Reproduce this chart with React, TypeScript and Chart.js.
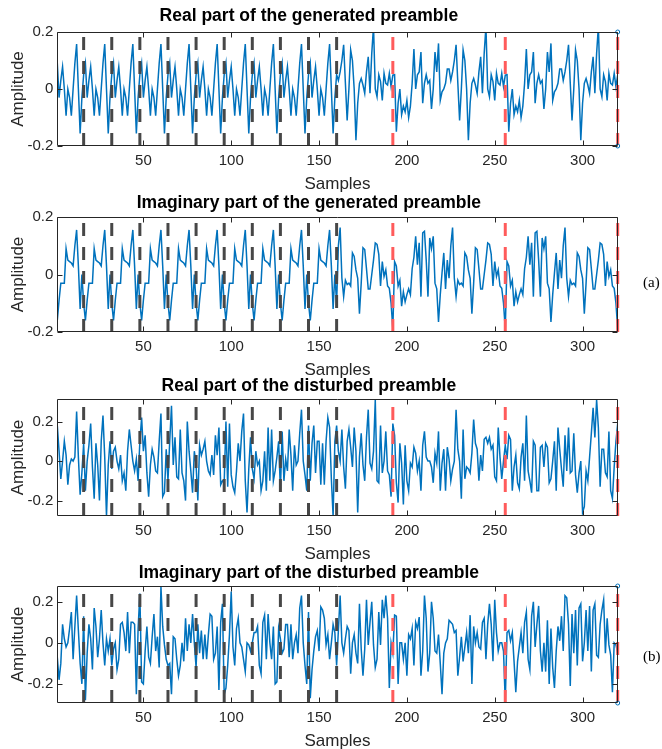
import React, { useEffect, useRef } from "react";
import { Chart, registerables } from "chart.js";
Chart.register(...registerables);

// ---------- data ----------
const GEN_REAL = [
  0.09,-0.03,0.03,0.078,0,-0.094,0,-0.03,-0.094,0,0.09,0.158,0,-0.156,-0.03,0.05,
  0.09,-0.03,0.03,0.078,0,-0.094,0,-0.03,-0.094,0,0.09,0.158,0,-0.156,-0.03,0.05,
  0.09,-0.03,0.03,0.078,0,-0.094,0,-0.03,-0.094,0,0.09,0.158,0,-0.156,-0.03,0.05,
  0.09,-0.03,0.03,0.078,0,-0.094,0,-0.03,-0.094,0,0.09,0.158,0,-0.156,-0.03,0.05,
  0.09,-0.03,0.03,0.078,0,-0.094,0,-0.03,-0.094,0,0.09,0.158,0,-0.156,-0.03,0.05,
  0.09,-0.03,0.03,0.078,0,-0.094,0,-0.03,-0.094,0,0.09,0.158,0,-0.156,-0.03,0.05,
  0.09,-0.03,0.03,0.078,0,-0.094,0,-0.03,-0.094,0,0.09,0.158,0,-0.156,-0.03,0.05,
  0.09,-0.03,0.03,0.078,0,-0.094,0,-0.03,-0.094,0,0.09,0.158,0,-0.156,-0.03,0.05,
  0.09,-0.03,0.03,0.078,0,-0.094,0,-0.03,-0.094,0,0.09,0.158,0,-0.156,-0.03,0.05,
  0.09,-0.03,0.03,0.078,0,-0.094,0,-0.03,-0.094,0,0.09,0.158,0,-0.156,-0.03,0.05,
  0.03,0.06,0.1,0.155,0.02,-0.11,0,0.137,0.1,0,-0.18,-0.05,0.02,0.037,0.014,-0.015,
  0.06,0.113,-0.015,0.125,0.22,0,-0.027,0.05,0.026,-0.04,0.055,0.02,0.014,0.055,0.008,0.049,
  0.05,-0.15,-0.05,0,-0.09,-0.06,-0.08,-0.04,-0.1,-0.06,0.02,0.14,0,0.05,0.06,0.13,
  -0.05,0.02,0.05,0.02,0.03,-0.07,0,0.13,0.06,0.16,-0.04,-0.01,0,0.02,0.07,0.07,
  0.03,0.06,0.1,0.155,0.02,-0.11,0,0.137,0.1,0,-0.18,-0.05,0.02,0.037,0.014,-0.015,
  0.06,0.113,-0.015,0.125,0.22,0,-0.027,0.05,0.026,-0.04,0.055,0.02,0.014,0.055,0.008,0.049,
  0.05,-0.15,-0.05,0,-0.09,-0.06,-0.08,-0.04,-0.1,-0.06,0.02,0.14,0,0.05,0.06,0.13,
  -0.05,0.02,0.05,0.02,0.03,-0.07,0,0.13,0.06,0.16,-0.04,-0.01,0,0.02,0.07,0.07,
  0.03,0.06,0.1,0.155,0.02,-0.11,0,0.137,0.1,0,-0.18,-0.05,0.02,0.037,0.014,-0.015,
  0.06,0.113,-0.015,0.125,0.22,0,-0.027,0.05,0.026,-0.04,0.055,0.02,0.014,0.055,0.008,0.049,
];

const GEN_IMAG = [
  -0.16,-0.09,-0.03,-0.03,-0.03,0.09,0.05,0.045,0.04,0.03,0.1,0.155,0.03,-0.12,0,-0.1,
  -0.16,-0.09,-0.03,-0.03,-0.03,0.09,0.05,0.045,0.04,0.03,0.1,0.155,0.03,-0.12,0,-0.1,
  -0.16,-0.09,-0.03,-0.03,-0.03,0.09,0.05,0.045,0.04,0.03,0.1,0.155,0.03,-0.12,0,-0.1,
  -0.16,-0.09,-0.03,-0.03,-0.03,0.09,0.05,0.045,0.04,0.03,0.1,0.155,0.03,-0.12,0,-0.1,
  -0.16,-0.09,-0.03,-0.03,-0.03,0.09,0.05,0.045,0.04,0.03,0.1,0.155,0.03,-0.12,0,-0.1,
  -0.16,-0.09,-0.03,-0.03,-0.03,0.09,0.05,0.045,0.04,0.03,0.1,0.155,0.03,-0.12,0,-0.1,
  -0.16,-0.09,-0.03,-0.03,-0.03,0.09,0.05,0.045,0.04,0.03,0.1,0.155,0.03,-0.12,0,-0.1,
  -0.16,-0.09,-0.03,-0.03,-0.03,0.09,0.05,0.045,0.04,0.03,0.1,0.155,0.03,-0.12,0,-0.1,
  -0.16,-0.09,-0.03,-0.03,-0.03,0.09,0.05,0.045,0.04,0.03,0.1,0.155,0.03,-0.12,0,-0.1,
  -0.16,-0.09,-0.03,-0.03,-0.03,0.09,0.05,0.045,0.04,0.03,0.1,0.155,0.03,-0.12,0,-0.1,
  0.1,0.163,-0.013,-0.077,-0.02,-0.035,-0.03,-0.04,0.075,0.063,0.016,-0.013,-0.136,-0.03,0.093,0.087,
  0.02,-0.05,-0.05,0,0.05,0.11,0.105,0.07,-0.04,0.045,-0.007,0.016,-0.04,-0.048,-0.1,-0.19,
  0.045,0.03,-0.04,-0.02,-0.11,-0.06,-0.095,-0.07,-0.05,-0.07,0.02,0.06,0.133,0.034,0.11,-0.077,
  0.145,0.15,0.05,-0.077,0.127,0.09,0.133,-0.03,-0.05,-0.165,-0.07,0.005,0.075,-0.05,0.05,-0.013,
  0.1,0.163,-0.013,-0.077,-0.02,-0.035,-0.03,-0.04,0.075,0.063,0.016,-0.013,-0.136,-0.03,0.093,0.087,
  0.02,-0.05,-0.05,0,0.05,0.11,0.105,0.07,-0.04,0.045,-0.007,0.016,-0.04,-0.048,-0.1,-0.19,
  0.045,0.03,-0.04,-0.02,-0.11,-0.06,-0.095,-0.07,-0.05,-0.07,0.02,0.06,0.133,0.034,0.11,-0.077,
  0.145,0.15,0.05,-0.077,0.127,0.09,0.133,-0.03,-0.05,-0.165,-0.07,0.005,0.075,-0.05,0.05,-0.013,
  0.1,0.163,-0.013,-0.077,-0.02,-0.035,-0.03,-0.04,0.075,0.063,0.016,-0.013,-0.136,-0.03,0.093,0.087,
  0.02,-0.05,-0.05,0,0.05,0.11,0.105,0.07,-0.04,0.045,-0.007,0.016,-0.04,-0.048,-0.1,-0.19,
];

const DIST_REAL = [
  0.18,0.05,-0.09,0,0.1,0.03,-0.12,-0.02,0.01,0,0.02,0.25,0.02,-0.17,-0.06,0.09,
  -0.15,0,0.08,0.19,-0.03,-0.19,0.09,-0.02,-0.2,0.1,0.23,0.02,-0.28,-0.02,0.1,-0.04,
  0.05,0.07,0,-0.04,0.03,-0.1,-0.06,-0.15,0.05,0.16,0.08,0,-0.05,0.01,-0.1,0.1,
  0.22,0.05,0.13,-0.06,-0.18,-0.02,0.06,0.02,-0.05,-0.06,0.1,0.24,-0.18,-0.16,0.06,-0.1,
  0.1,0.28,-0.02,0.12,-0.08,-0.09,0.16,-0.06,-0.1,-0.2,0.2,0.05,-0.05,-0.16,0.05,-0.02,
  -0.2,0.08,0.03,0.06,0.1,0,-0.05,-0.07,0.03,-0.07,0.13,0.03,0.17,-0.12,-0.1,-0.11,
  0.2,-0.13,0.19,-0.07,-0.13,-0.16,-0.05,0.09,0,0.15,0.24,-0.1,-0.26,-0.04,0.12,-0.04,
  -0.09,0.05,-0.02,0,-0.15,-0.1,0.05,-0.15,0.17,-0.1,0.16,-0.1,-0.05,0.02,0.1,-0.15,
  0.15,-0.1,0.01,-0.05,0.16,0.03,-0.15,0.08,-0.02,0,0.14,0.26,0,-0.07,-0.15,0.18,
  -0.1,0.09,0.18,-0.06,0.1,0.1,-0.12,0.09,-0.12,0.1,0.22,0.17,-0.09,-0.28,0.1,0.18,
  0.05,0,0.16,-0.03,-0.14,0.1,0.16,0.07,-0.03,0.17,0.05,-0.26,0.02,0.14,-0.02,-0.1,
  0.12,0.26,-0.01,-0.04,0.05,0.31,-0.1,-0.11,0.18,-0.06,0,0.15,-0.05,-0.07,-0.18,0.19,
  0.13,-0.11,-0.21,0.09,-0.01,-0.22,0.08,-0.1,-0.15,-0.01,-0.03,0.07,0.04,-0.05,0,-0.15,
  0.08,0.15,0.02,0,0,-0.03,-0.11,0.04,-0.01,0.15,-0.15,-0.01,0.06,-0.15,0.07,0.01,
  -0.1,-0.04,0,0.26,0.06,0,-0.19,0.16,-0.09,-0.03,-0.04,-0.06,0.04,0.21,0.09,0.06,
  -0.1,0.03,-0.05,0.11,0.12,0.09,0.12,0.06,0.08,-0.08,-0.1,0.17,0.02,-0.09,0,0.08,
  0.01,0.13,0.11,-0.15,-0.03,0.03,-0.11,-0.14,0.02,0.09,-0.1,0.23,-0.05,-0.1,-0.16,0.1,
  0.08,-0.15,-0.15,0.07,0.08,-0.03,0.09,0.07,-0.11,-0.09,0,0.1,-0.15,0.17,0.06,-0.04,
  -0.13,0.13,-0.05,0.17,-0.06,-0.05,0.14,-0.07,-0.16,-0.06,0,-0.26,-0.23,-0.05,-0.1,0.02,
  0.14,0.27,0.12,0.31,0.17,-0.13,0.06,0.06,-0.06,-0.08,0.15,-0.15,-0.19,-0.03,0.1,0.19,
];

const DIST_IMAG = [
  -0.07,-0.18,-0.1,0.09,0.02,-0.02,0,0.07,0.15,-0.08,0.08,0.23,0.06,-0.1,-0.2,0.13,
  -0.28,-0.05,0.09,0.02,-0.13,0.17,0.08,-0.07,0.02,0.16,0,-0.11,0.02,-0.04,0.02,-0.11,
  -0.03,0,-0.13,-0.08,0.09,0.1,0.05,-0.04,0.15,-0.05,0.1,0.1,0.09,-0.25,0.07,0.24,
  -0.19,-0.2,-0.04,0.08,-0.07,-0.1,0.03,0.14,-0.04,0.03,-0.12,0.275,0.08,-0.01,-0.08,-0.11,
  -0.1,-0.25,0.03,0.02,-0.08,-0.16,-0.11,0,-0.09,0.12,-0.04,0.09,0,0.14,0,-0.12,
  0.09,-0.05,0.06,-0.08,0.04,-0.08,0.04,0.14,0.13,-0.08,-0.05,0.08,-0.23,0.1,0.19,-0.25,
  -0.22,-0.11,0.04,0.25,-0.02,-0.11,0.07,0.12,0,-0.02,-0.08,-0.14,0,-0.01,-0.04,0,
  0.05,0.05,0.08,-0.11,-0.15,0.1,0.135,-0.08,0.14,0,-0.08,0.08,-0.2,-0.19,0.07,0.02,
  -0.05,-0.03,0.09,0.09,-0.07,0.09,-0.08,0,0.04,-0.05,0.17,0.23,0,-0.11,-0.2,0.15,
  -0.27,-0.13,-0.04,0.03,0.06,-0.04,0.175,0.16,0.12,-0.01,0.04,-0.08,0,0.09,0.05,-0.11,
  0.06,0.23,0,-0.05,0.02,0.08,0.06,-0.15,0,0.04,-0.05,-0.1,0.19,-0.03,-0.16,-0.03,
  0.21,-0.01,0.1,0.2,-0.01,-0.12,-0.08,0.15,-0.01,0.21,0.12,0.23,0.12,-0.22,0,-0.05,
  0.135,0.13,-0.2,0,0,-0.08,0,-0.16,0.04,0.02,0.07,-0.11,0.1,0.07,0.126,-0.16,
  -0.04,0.23,0.12,-0.14,-0.05,0.2,0.12,-0.04,-0.05,0.04,-0.1,-0.25,-0.05,0,0.02,0.11,
  0.1,0.09,0.05,0.06,-0.16,-0.07,0.03,-0.09,-0.02,0.05,-0.05,0.135,-0.2,0.08,0,0.05,
  -0.02,-0.03,0.1,0.12,-0.08,0.09,0.19,0.09,-0.09,0.21,0.05,-0.04,0,0,-0.04,-0.29,
  0.05,0.06,0.01,0.05,-0.09,-0.24,-0.09,-0.02,0.05,-0.05,0.1,0.15,-0.08,-0.13,0.13,0.2,
  -0.02,0.09,0.18,-0.04,-0.14,0,-0.14,0.11,-0.2,0.07,-0.12,-0.22,-0.04,0.08,0.01,0.13,
  -0.04,0.23,0.22,0.09,-0.21,0.14,-0.05,0.16,-0.11,0.17,0.19,-0.09,0,0.16,-0.04,0.18,
  -0.14,0.16,0.19,-0.06,-0.07,0.09,0.16,0.21,-0.05,0.12,-0.01,-0.06,-0.24,0,-0.01,-0.05,
];

const PANEL_TITLES = [
  "Real part of the generated preamble",
  "Imaginary part of the generated preamble",
  "Real part of the disturbed preamble",
  "Imaginary part of the disturbed preamble",
];
const PANEL_SERIES = [GEN_REAL, GEN_IMAG, DIST_REAL, DIST_IMAG];
const Y_LIMITS = [
  [-0.2, 0.2],
  [-0.2, 0.2],
  [-0.278, 0.314],
  [-0.293, 0.277],
];
const X_RANGE = [1, 320];
const X_TICKS = [50, 100, 150, 200, 250, 300];
const Y_TICKS = [-0.2, 0, 0.2];
const STF_BOUNDARIES = [16, 32, 48, 64, 80, 96, 112, 128, 144, 160];
const LTF_BOUNDARIES = [192, 256, 320];
const CORNER_MARKER_PANELS = [0, 3];
const SIDE_LABELS = [
  { text: "(a)", top: 273 },
  { text: "(b)", top: 647 },
];

// ---------- layout ----------
const PANEL_BOXES = [
  { top: 0, plotH: 114, titleGap: 15.5 },
  { top: 185, plotH: 115, titleGap: 13.5 },
  { top: 367, plotH: 117, titleGap: 13 },
  { top: 554, plotH: 117, titleGap: 13 },
];
const TITLE_SPACE = 32;
const XAXIS_SPACE = 52;
const PLOT_LEFT = 57.3;
const PLOT_RIGHT = 617.7;
const W = 662;

const SANS = '"Liberation Sans", Arial, Helvetica, sans-serif';
const AXIS_COLOR = "#262626";
const TITLE_SIZE = 17.5;
const LABEL_SIZE = 17;
const TICK_SIZE = 15;

const framePlugin = {
  id: "matlabFrame",
  afterDatasetsDraw(chart: any) {
    const { ctx, chartArea: a, scales } = chart;
    const L = Math.round(a.left) + 0.5;
    const R = Math.round(a.right) - 0.5;
    const T = Math.round(a.top) + 0.5;
    const B = Math.round(a.bottom) - 0.5;
    ctx.save();
    ctx.strokeStyle = AXIS_COLOR;
    ctx.lineWidth = 1;
    ctx.beginPath();
    ctx.rect(L, T, R - L, B - T);
    const tl = 5;
    for (const v of X_TICKS) {
      const px = Math.round(scales.x.getPixelForValue(v)) + 0.5;
      ctx.moveTo(px, B);
      ctx.lineTo(px, B - tl);
      ctx.moveTo(px, T);
      ctx.lineTo(px, T + tl);
    }
    for (const v of Y_TICKS) {
      const py = Math.round(scales.y.getPixelForValue(v)) + 0.5;
      ctx.moveTo(L, py);
      ctx.lineTo(L + tl, py);
      ctx.moveTo(R, py);
      ctx.lineTo(R - tl, py);
    }
    ctx.stroke();
    ctx.restore();
  },
};

function Panel({ index }: { index: number }) {
  const ref = useRef<HTMLCanvasElement | null>(null);
  const box = PANEL_BOXES[index];
  const H = TITLE_SPACE + box.plotH + XAXIS_SPACE;

  useEffect(() => {
    if (!ref.current) return;
    const values = PANEL_SERIES[index];
    const [ymin, ymax] = Y_LIMITS[index];
    const vline = (x: number, color: string) => ({
      data: [
        { x, y: ymin },
        { x, y: ymax },
      ],
      borderColor: color,
      borderWidth: 3,
      borderDash: [13, 11],
      pointRadius: 0,
      clip: { left: 3, right: 3, top: 0, bottom: 0 },
    });
    const datasets: any[] = [];
    if (CORNER_MARKER_PANELS.includes(index)) {
      datasets.push({
        data: [
          { x: X_RANGE[1], y: ymax },
          { x: X_RANGE[1], y: ymin },
        ],
        showLine: false,
        pointRadius: 2,
        pointBorderWidth: 1,
        pointBorderColor: "#0072BD",
        pointBackgroundColor: "#ffffff",
        clip: false,
      });
    }
    datasets.push(
      ...STF_BOUNDARIES.map((x) => vline(x, "#474747")),
      ...LTF_BOUNDARIES.map((x) => vline(x, "#FF5B5B")),
      {
        data: values.map((y, i) => ({ x: i + 1, y })),
        borderColor: "#0072BD",
        borderWidth: 1.5,
        pointRadius: 0,
        tension: 0,
      }
    );
    const tickFont = { family: SANS, size: TICK_SIZE };
    const labelFont = { family: SANS, size: LABEL_SIZE, lineHeight: 1.2 };
    const titleLH = TITLE_SIZE * 1.2;
    const titleTop = TITLE_SPACE - box.titleGap - titleLH / 2;
    const chart = new Chart(ref.current, {
      type: "line",
      data: { datasets },
      options: {
        animation: false,
        responsive: false,
        maintainAspectRatio: false,
        events: [],
        layout: { padding: { left: 0, right: W - PLOT_RIGHT, top: 0, bottom: 0 } },
        plugins: {
          legend: { display: false },
          tooltip: { enabled: false },
          title: {
            display: true,
            text: PANEL_TITLES[index],
            color: "#000",
            font: { family: SANS, size: TITLE_SIZE, weight: "bold", lineHeight: 1.2 },
            padding: { top: titleTop, bottom: TITLE_SPACE - titleTop - titleLH },
          },
        },
        scales: {
          x: {
            type: "linear",
            min: X_RANGE[0],
            max: X_RANGE[1],
            grid: { display: false, drawTicks: false },
            border: { display: false },
            afterBuildTicks: (s: any) => {
              s.ticks = X_TICKS.map((v) => ({ value: v }));
            },
            afterFit: (s: any) => {
              s.height = XAXIS_SPACE;
            },
            ticks: {
              font: tickFont,
              color: AXIS_COLOR,
              padding: 6,
              autoSkip: false,
              maxRotation: 0,
              callback: (v: any) => String(v),
            },
            title: {
              display: true,
              text: "Samples",
              color: AXIS_COLOR,
              font: labelFont,
              padding: { top: 0, bottom: XAXIS_SPACE - 38.5 - (LABEL_SIZE * 1.2) / 2 },
            },
          },
          y: {
            type: "linear",
            min: ymin,
            max: ymax,
            grid: { display: false, drawTicks: false },
            border: { display: false },
            afterBuildTicks: (s: any) => {
              s.ticks = Y_TICKS.map((v) => ({ value: v }));
            },
            afterFit: (s: any) => {
              s.width = PLOT_LEFT;
            },
            ticks: {
              font: tickFont,
              color: AXIS_COLOR,
              padding: 4,
              callback: (v: any) => String(v),
            },
            title: {
              display: true,
              text: "Amplitude",
              color: AXIS_COLOR,
              font: labelFont,
              padding: { top: 18.5 - (LABEL_SIZE * 1.2) / 2, bottom: 0 },
            },
          },
        },
      },
      plugins: [framePlugin],
    } as any);
    return () => chart.destroy();
  }, [index]);

  return (
    <canvas
      ref={ref}
      width={W}
      height={H}
      style={{ position: "absolute", left: 0, top: box.top, width: W, height: H }}
    />
  );
}

export default function App() {
  return (
    <div
      style={{
        position: "absolute",
        left: 0,
        top: 0,
        width: W,
        height: 749,
        overflow: "hidden",
        background: "#fff",
      }}
    >
      {PANEL_TITLES.map((_, i) => (
        <Panel key={i} index={i} />
      ))}
      {SIDE_LABELS.map((l) => (
        <span
          key={l.text}
          style={{
            position: "absolute",
            left: 643,
            top: l.top,
            fontFamily: '"Liberation Serif", "Times New Roman", serif',
            fontSize: 15,
            lineHeight: "18px",
            color: "#000",
            whiteSpace: "nowrap",
          }}
        >
          {l.text}
        </span>
      ))}
    </div>
  );
}
